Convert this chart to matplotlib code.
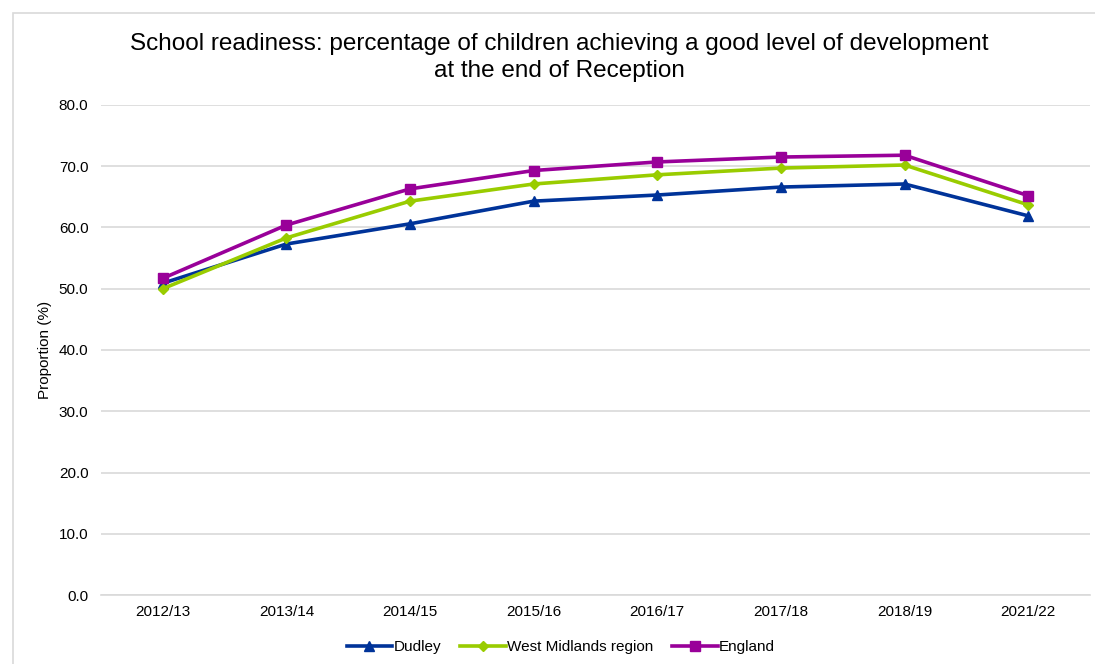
import matplotlib
matplotlib.use("Agg")
import matplotlib.pyplot as plt
from matplotlib.patches import Rectangle

plt.rcParams["font.family"] = ["Liberation Sans", "DejaVu Sans"]

years = ["2012/13", "2013/14", "2014/15", "2015/16", "2016/17", "2017/18", "2018/19", "2021/22"]
dudley = [50.9, 57.3, 60.6, 64.3, 65.3, 66.6, 67.1, 61.9]
west_midlands = [50.0, 58.3, 64.3, 67.1, 68.6, 69.7, 70.2, 63.7]
england = [51.7, 60.4, 66.3, 69.3, 70.7, 71.5, 71.8, 65.2]

fig = plt.figure(figsize=(10.95, 6.64), dpi=100)
ax = fig.add_axes([0.0922, 0.1039, 0.9032, 0.738])

# chart area outline
fig.patches.append(Rectangle((13 / 1095, -0.01), 1.0, 1 - 13 / 664 + 0.01,
                             transform=fig.transFigure, fill=False,
                             edgecolor="#d9d9d9", linewidth=1.2))

x = range(len(years))
ax.plot(x, dudley, color="#003399", lw=2.6, marker="^", ms=7.5, label="Dudley")
ax.plot(x, west_midlands, color="#99cc00", lw=2.6, marker="D", ms=5.5, label="West Midlands region")
ax.plot(x, england, color="#990099", lw=2.6, marker="s", ms=7.5, label="England")

ax.set_xlim(-0.5, len(years) - 0.5)
ax.set_ylim(0, 80)
ax.set_yticks(range(0, 81, 10))
ax.set_yticklabels([f"{v:.1f}" for v in range(0, 81, 10)])
ax.set_xticks(list(x))
ax.set_xticklabels(years)
ax.tick_params(axis="both", length=0, labelsize=11, colors="#000000")
ax.tick_params(axis="y", pad=9)
ax.tick_params(axis="x", pad=7)
ax.grid(axis="y", color="#d9d9d9", lw=1.2)
ax.set_axisbelow(True)
for side in ["top", "right", "left"]:
    ax.spines[side].set_visible(False)
ax.spines["bottom"].set_color("#d9d9d9")
ax.spines["bottom"].set_linewidth(1.2)

ax.set_ylabel("Proportion (%)", fontsize=11, labelpad=5)
fig.text(0.511, 0.913, "School readiness: percentage of children achieving a good level of development\nat the end of Reception",
         ha="center", va="center", fontsize=17.5, linespacing=1.3)

ax.legend(loc="center", bbox_to_anchor=(0.465, -0.107), ncol=3, frameon=False,
          fontsize=11, handlelength=3, handletextpad=0.1, columnspacing=1.2)

fig.savefig("out.png", dpi=100)
